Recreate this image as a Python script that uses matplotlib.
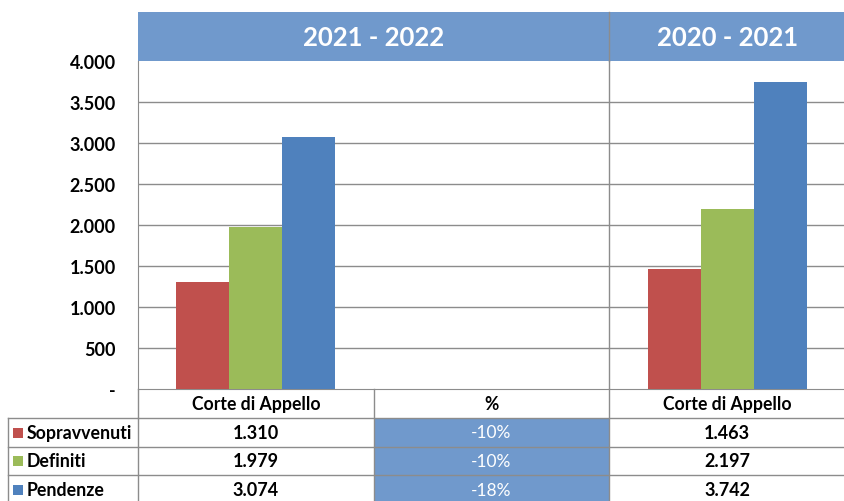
import matplotlib
matplotlib.use("Agg")
import matplotlib.pyplot as plt
from matplotlib.patches import Rectangle

plt.rcParams['font.family'] = ['Lato', 'DejaVu Sans']

# data
periods = ["2021 - 2022", "2020 - 2021"]
categories = ["Corte di Appello", "%", "Corte di Appello"]
series = ["Sopravvenuti", "Definiti", "Pendenze"]
values_2122 = [1310, 1979, 3074]
values_2021 = [1463, 2197, 3742]
pct_change = ["-10%", "-10%", "-18%"]
colors = ["#C0504D", "#9BBB59", "#4F81BD"]
yticks = [0, 500, 1000, 1500, 2000, 2500, 3000, 3500, 4000]

header_blue = "#7099CC"
grid_gray = "#8C8C8C"

W, H = 845, 502
fig = plt.figure(figsize=(W / 100, H / 100), dpi=100)

# pixel layout
left, right = 138, 845
top, zero = 62, 390
col_w = (right - left) / 3

ax = fig.add_axes([left / W, 1 - zero / H, (right - left) / W, (zero - top) / H])
ax.set_xlim(0, 3)
ax.set_ylim(0, 4000)

bw = 0.225
for i in range(3):
    ax.bar(0.5 + (i - 1) * bw, values_2122[i], width=bw, color=colors[i], zorder=3)
    ax.bar(2.5 + (i - 1) * bw, values_2021[i], width=bw, color=colors[i], zorder=3)

for y in yticks[1:-1]:
    ax.axhline(y, color=grid_gray, lw=1, zorder=1)
ax.axvline(2, color=grid_gray, lw=1, zorder=1)

for s in ax.spines.values():
    s.set_visible(False)
for side in ('left', 'bottom'):
    ax.spines[side].set_visible(True)
    ax.spines[side].set_color(grid_gray)
ax.set_xticks([])
ax.set_yticks(yticks)
ax.set_yticklabels(["-" if v == 0 else f"{v:,}".replace(",", ".") for v in yticks],
                   fontsize=13, fontweight="bold")
ax.tick_params(axis='y', length=0, pad=16)

# overlay in pixel coordinates for header and table
ov = fig.add_axes([0, 0, 1, 1], zorder=5)
ov.set_xlim(0, W)
ov.set_ylim(H, 0)
ov.axis("off")

# header band
hdr_top = 13
ov.add_patch(Rectangle((left, hdr_top), right - left, top - hdr_top,
                       facecolor=header_blue, edgecolor="none"))
ov.plot([left + 2 * col_w] * 2, [hdr_top, top], color=grid_gray, lw=1)
ov.text(left + col_w, (hdr_top + top) / 2 + 1, periods[0], color="white",
        fontsize=18.5, fontweight="bold", ha="center", va="center")
ov.text(left + 2.5 * col_w, (hdr_top + top) / 2 + 1, periods[1], color="white",
        fontsize=18.5, fontweight="bold", ha="center", va="center")

# data table
rows_y = [390, 419, 448, 476, 505]
tab_left = 8
col_x = [left, left + col_w, left + 2 * col_w, right]

ov.add_patch(Rectangle((col_x[1], rows_y[1]), col_w, rows_y[-1] - rows_y[1],
                       facecolor=header_blue, edgecolor="none"))

lc = grid_gray
# horizontal lines
ov.plot([left, right], [rows_y[1]] * 2, color=lc, lw=1)
for r in rows_y[2:4]:
    ov.plot([tab_left, right], [r, r], color=lc, lw=1)
ov.plot([tab_left, left], [rows_y[1]] * 2, color=lc, lw=1)
# vertical lines
ov.plot([tab_left] * 2, [rows_y[1], H], color=lc, lw=1)
for x in col_x[:3]:
    ov.plot([x, x], [rows_y[0], H], color=lc, lw=1)

for j, c in enumerate(categories):
    ov.text(col_x[j] + col_w / 2, (rows_y[0] + rows_y[1]) / 2, c,
            fontsize=12.7, fontweight="bold", ha="center", va="center")

for i, name in enumerate(series):
    yc = (rows_y[i + 1] + rows_y[i + 2]) / 2
    if i == 2:
        yc = (rows_y[3] + H) / 2 + 2
    ov.add_patch(Rectangle((tab_left + 5, yc - 5), 10, 10, facecolor=colors[i],
                           edgecolor="none"))
    ov.text(tab_left + 19, yc, name, fontsize=12.8, fontweight="bold",
            ha="left", va="center")
    ov.text(col_x[0] + col_w / 2, yc, f"{values_2122[i]:,}".replace(",", "."),
            fontsize=13, fontweight="bold", ha="center", va="center")
    ov.text(col_x[1] + col_w / 2, yc, pct_change[i], color="white",
            fontsize=12.5, ha="center", va="center")
    ov.text(col_x[2] + col_w / 2, yc, f"{values_2021[i]:,}".replace(",", "."),
            fontsize=13, fontweight="bold", ha="center", va="center")

fig.savefig("out.png", dpi=100)
